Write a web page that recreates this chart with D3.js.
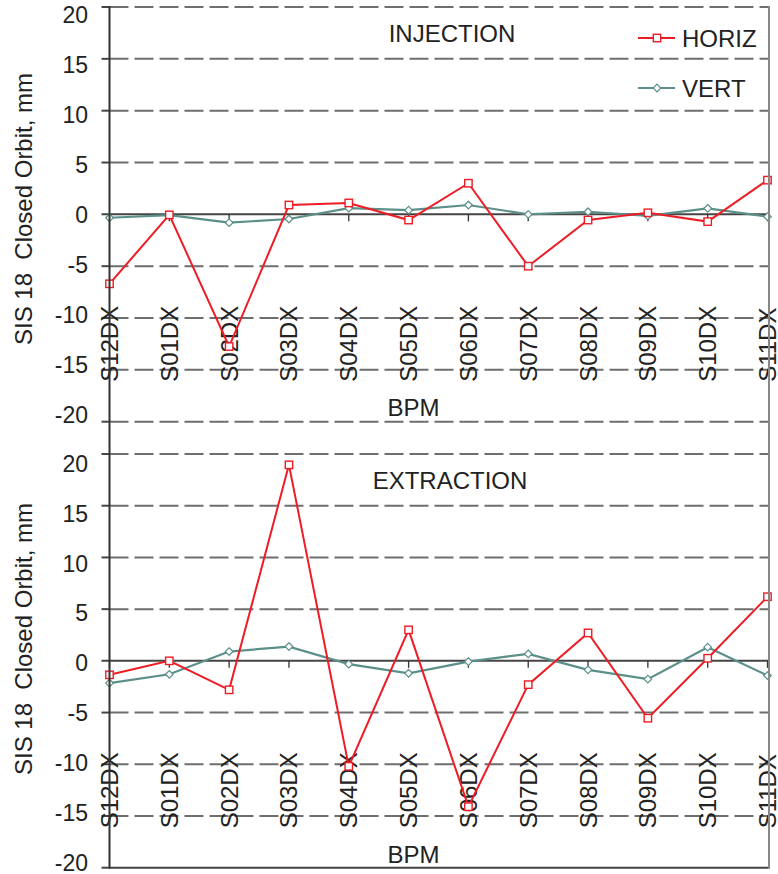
<!DOCTYPE html>
<html>
<head>
<meta charset="utf-8">
<script src="https://cdn.jsdelivr.net/npm/d3@7"></script>
<style>
  body { margin: 0; background: #fff; }
  text { font-family: "Liberation Sans", Arial, sans-serif; fill: #222; }
</style>
</head>
<body>
<script>
"use strict";

const width = 778;
const height = 874;

// BPM names along the ring
const bpms = ["S12DX", "S01DX", "S02DX", "S03DX", "S04DX", "S05DX",
  "S06DX", "S07DX", "S08DX", "S09DX", "S10DX", "S11DX"];

// closed orbit, mm
const injHoriz = [-6.7, -0.05, -12.75, 0.9, 1.1, -0.55, 3.0, -5.0, -0.55, 0.15, -0.7, 3.3];
const injVert = [-0.33, -0.07, -0.8, -0.45, 0.6, 0.4, 0.9, 0.0, 0.25, -0.15, 0.58, -0.22];
const extHoriz = [-1.35, 0.0, -2.8, 18.95, -10.2, 3.0, -14.1, -2.3, 2.7, -5.55, 0.25, 6.2];
const extVert = [-2.15, -1.3, 0.9, 1.38, -0.32, -1.2, -0.07, 0.68, -0.87, -1.77, 1.32, -1.42];

const yTicks = [20, 15, 10, 5, 0, -5, -10, -15, -20];

const red = "#ee1c25";
const teal = "#5b8f8a";
const gridColor = "#6e6e6e";
const left = 109.5;
const right = 769;

const svg = d3
  .select("body")
  .append("svg")
  .attr("width", width)
  .attr("height", height);

const x = d3.scalePoint().domain(bpms).range([109.5, 767.5]);

function square(g, cx, cy, color) {
  g.append("rect")
    .attr("x", cx - 3.7)
    .attr("y", cy - 3.7)
    .attr("width", 7.4)
    .attr("height", 7.4)
    .attr("fill", "#fff")
    .attr("stroke", color)
    .attr("stroke-width", 1.4);
}

function diamond(g, cx, cy, color) {
  g.append("path")
    .attr("d", `M${cx},${cy - 3.8}L${cx + 3.8},${cy}L${cx},${cy + 3.8}L${cx - 3.8},${cy}Z`)
    .attr("fill", "#fff")
    .attr("stroke", color)
    .attr("stroke-width", 1.2);
}

function drawPanel(p) {
  const y = d3.scaleLinear().domain([-20, 20]).range([p.bottom, p.top]);
  // tick labels sit on a slightly tighter spacing than the grid
  const yl = d3.scaleLinear().domain([-20, 20]).range([p.labBottom, p.labTop]);
  const g = svg.append("g");

  // grid
  yTicks.forEach(function (t) {
    if (t === 0) return;
    const solid = t === -20 && p.solidBottom;
    g.append("line")
      .attr("x1", left)
      .attr("x2", right)
      .attr("y1", y(t))
      .attr("y2", y(t))
      .attr("stroke", solid ? "#444" : gridColor)
      .attr("stroke-width", 2)
      .attr("stroke-dasharray", solid ? null : "19,6");
    g.append("line")
      .attr("x1", left - 8)
      .attr("x2", left)
      .attr("y1", y(t))
      .attr("y2", y(t))
      .attr("stroke", "#444")
      .attr("stroke-width", 2);
  });

  // zero line with BPM ticks
  g.append("line")
    .attr("x1", left - 8)
    .attr("x2", right)
    .attr("y1", y(0))
    .attr("y2", y(0))
    .attr("stroke", "#444")
    .attr("stroke-width", 2);
  bpms.forEach(function (b) {
    g.append("line")
      .attr("x1", x(b))
      .attr("x2", x(b))
      .attr("y1", y(0))
      .attr("y2", y(0) + 7)
      .attr("stroke", "#333")
      .attr("stroke-width", 1.3);
  });

  // y tick labels
  g.selectAll(".ylab")
    .data(yTicks)
    .enter()
    .append("text")
    .attr("x", 88)
    .attr("y", function (d) {
      return yl(d);
    })
    .attr("dy", "0.35em")
    .attr("text-anchor", "end")
    .attr("font-size", 23)
    .text(function (d) {
      return d;
    });

  // rotated BPM labels
  g.selectAll(".xlab")
    .data(bpms)
    .enter()
    .append("text")
    .attr("transform", function (d) {
      return "translate(" + (x(d) + 8.5) + "," + (y(0) + 167.5) + ") rotate(-90)";
    })
    .attr("font-size", 24)
    .text(function (d) {
      return d;
    });

  // series
  const line = d3
    .line()
    .x(function (d, i) {
      return x(bpms[i]);
    })
    .y(function (d) {
      return y(d);
    });

  g.append("path")
    .attr("d", line(p.vert))
    .attr("fill", "none")
    .attr("stroke", teal)
    .attr("stroke-width", 2.2);
  p.vert.forEach(function (v, i) {
    diamond(g, x(bpms[i]), y(v), teal);
  });

  g.append("path")
    .attr("d", line(p.horiz))
    .attr("fill", "none")
    .attr("stroke", red)
    .attr("stroke-width", 2);
  p.horiz.forEach(function (v, i) {
    square(g, x(bpms[i]), y(v), red);
  });

  // titles
  g.append("text")
    .attr("x", p.titleX)
    .attr("y", p.top + 35)
    .attr("text-anchor", "middle")
    .attr("font-size", 24)
    .text(p.title);
  g.append("text")
    .attr("x", 413.5)
    .attr("y", y(0) + 202)
    .attr("text-anchor", "middle")
    .attr("font-size", 24)
    .text("BPM");
  g.append("text")
    .attr("transform", "translate(32," + p.yTitleY + ") rotate(-90)")
    .attr("text-anchor", "middle")
    .attr("font-size", 24)
    .attr("xml:space", "preserve")
    .text("SIS 18  Closed Orbit, mm");
}

drawPanel({
  top: 7, bottom: 421.7, labTop: 15, labBottom: 415,
  horiz: injHoriz, vert: injVert, title: "INJECTION", titleX: 452,
  yTitleY: 209, solidBottom: false
});
drawPanel({
  top: 454, bottom: 867.7, labTop: 464, labBottom: 862.5,
  horiz: extHoriz, vert: extVert, title: "EXTRACTION", titleX: 450,
  yTitleY: 639, solidBottom: true
});

// frame: left axis and right border run through both panels
svg.append("line")
  .attr("x1", left).attr("x2", left)
  .attr("y1", 6).attr("y2", 868.7)
  .attr("stroke", "#333").attr("stroke-width", 2);
svg.append("line")
  .attr("x1", right).attr("x2", right)
  .attr("y1", 6).attr("y2", 868.7)
  .attr("stroke", "#888").attr("stroke-width", 2);

// legend
const legend = svg.append("g");
const series = [
  { name: "HORIZ", color: red, y: 38, marker: square },
  { name: "VERT", color: teal, y: 88, marker: diamond }
];
series.forEach(function (s) {
  legend.append("line")
    .attr("x1", 638).attr("x2", 675)
    .attr("y1", s.y).attr("y2", s.y)
    .attr("stroke", s.color).attr("stroke-width", 2);
  s.marker(legend, 657, s.y, s.color);
  legend.append("text")
    .attr("x", 682)
    .attr("y", s.y + 8.5)
    .attr("font-size", 24)
    .text(s.name);
});
</script>
</body>
</html>
